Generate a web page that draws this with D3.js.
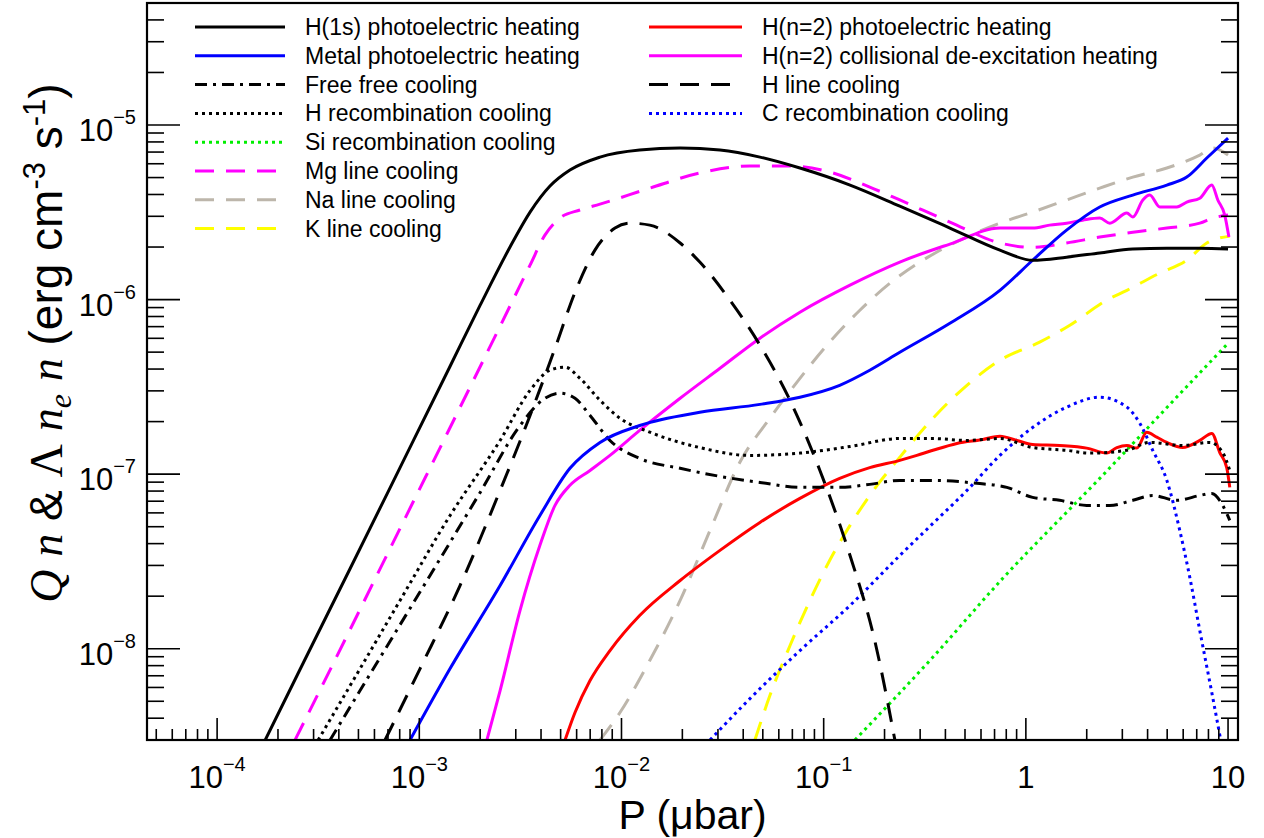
<!DOCTYPE html>
<html><head><meta charset="utf-8">
<script src="https://cdn.jsdelivr.net/npm/d3@7"></script>
<style>
body{margin:0;background:#fff;}
svg{display:block;}
text{font-family:"Liberation Sans",Arial,Helvetica,sans-serif;fill:#000;}
</style>
</head><body>
<svg id="chart" width="1264" height="838"></svg>
<script>
// ---- axis domains & tick labels ----
const xDomain = [4.5e-5, 11.2];
const yDomain = [3e-9, 5e-5];
const xMajorTicks = [1e-4, 1e-3, 1e-2, 1e-1, 1, 10];
const xTickLabels = [["10","\u22124"],["10","\u22123"],["10","\u22122"],["10","\u22121"],["1",""],["10",""]];
const yMajorTicks = [1e-8, 1e-7, 1e-6, 1e-5];
const yTickLabels = [["10","\u22128"],["10","\u22127"],["10","\u22126"],["10","\u22125"]];

// ---- series data: [P (µbar), rate (erg cm^-3 s^-1)] ----
const h1sPhoto = [[1.73e-4,3.0e-9],[2.57e-4,7.6e-9],[4.55e-4,2.88e-8],[8.03e-4,1.09e-7],[1.42e-3,4.15e-7],[2.0e-3,9.29e-7],[2.81e-3,2.0e-6],[3.53e-3,3.17e-6],[4.43e-3,4.47e-6],[5.56e-3,5.52e-6],[7.83e-3,6.55e-6],[1.23e-2,7.19e-6],[1.95e-2,7.38e-6],[3.07e-2,7.19e-6],[4.84e-2,6.55e-6],[7.63e-2,5.67e-6],[0.135,4.53e-6],[0.238,3.43e-6],[0.421,2.57e-6],[0.744,1.92e-6],[1.08,1.68e-6],[1.59,1.75e-6],[2.32,1.85e-6],[3.38,1.95e-6],[4.98,1.97e-6],[7.25,1.97e-6],[10.0,1.95e-6]];
const metalPhoto = [[9.0e-4,3.0e-9],[1.42e-3,7.70e-9],[2.51e-3,2.30e-8],[3.95e-3,5.80e-8],[5.56e-3,1.08e-7],[7.83e-3,1.52e-7],[1.23e-2,1.90e-7],[2.44e-2,2.26e-7],[4.84e-2,2.51e-7],[7.63e-2,2.76e-7],[0.120,3.23e-7],[0.169,3.94e-7],[0.238,4.99e-7],[0.421,7.32e-7],[0.744,1.13e-6],[1.08,1.68e-6],[1.59,2.50e-6],[2.32,3.39e-6],[3.38,3.97e-6],[4.98,4.53e-6],[6.25,5.03e-6],[7.85,6.47e-6],[10.0,8.42e-6]];
const freeFree = [[3.62e-4,3.0e-9],[6.40e-4,8.9e-9],[1.13e-3,2.63e-8],[2.0e-3,7.86e-8],[3.15e-3,1.90e-7],[4.18e-3,2.72e-7],[4.96e-3,2.91e-7],[5.89e-3,2.72e-7],[6.99e-3,2.17e-7],[8.77e-3,1.56e-7],[1.23e-2,1.23e-7],[1.95e-2,1.08e-7],[3.07e-2,9.71e-8],[4.84e-2,8.97e-8],[7.63e-2,8.40e-8],[0.120,8.40e-8],[0.169,8.74e-8],[0.238,9.21e-8],[0.347,9.21e-8],[0.572,8.86e-8],[0.805,8.40e-8],[1.08,7.36e-8],[1.47,7.08e-8],[2.0,6.62e-8],[2.6,6.62e-8],[3.38,7.08e-8],[4.24,7.55e-8],[5.58,7.08e-8],[7.25,7.55e-8],[8.31,7.76e-8],[9.41,6.62e-8],[10.2,5.43e-8]];
const hRecomb = [[3.16e-4,3.0e-9],[4.55e-4,6.15e-9],[8.03e-4,1.89e-8],[1.42e-3,5.80e-8],[2.51e-3,1.56e-7],[3.53e-3,3.02e-7],[4.43e-3,3.94e-7],[5.26e-3,4.10e-7],[6.23e-3,3.54e-7],[7.83e-3,2.65e-7],[9.83e-3,2.09e-7],[1.38e-2,1.74e-7],[2.44e-2,1.42e-7],[4.32e-2,1.28e-7],[7.63e-2,1.32e-7],[0.135,1.44e-7],[0.238,1.60e-7],[0.347,1.60e-7],[0.511,1.56e-7],[0.744,1.60e-7],[1.08,1.42e-7],[1.59,1.37e-7],[2.07,1.32e-7],[3.16,1.37e-7],[4.10,1.52e-7],[5.97,1.46e-7],[8.12,1.52e-7],[9.41,1.33e-7],[10.2,1.05e-7]];
const siRecomb = [[0.1427,3.0e-9],[0.335,8.56e-9],[0.769,2.53e-8],[2.32,9.46e-8],[6.69,3.45e-7],[10.0,5.62e-7]];
const mgLine = [[2.43e-4,3.0e-9],[4.55e-4,1.29e-8],[8.03e-4,4.89e-8],[1.42e-3,1.85e-7],[2.51e-3,7.04e-7],[3.53e-3,1.575e-6],[4.18e-3,2.34e-6],[4.96e-3,2.93e-6],[6.23e-3,3.26e-6],[7.83e-3,3.52e-6],[1.38e-2,4.35e-6],[2.44e-2,5.31e-6],[4.32e-2,5.82e-6],[6.81e-2,5.82e-6],[0.107,5.38e-6],[0.169,4.41e-6],[0.238,3.72e-6],[0.421,2.78e-6],[0.744,2.11e-6],[1.08,1.99e-6],[1.59,2.11e-6],[2.32,2.28e-6],[3.38,2.43e-6],[4.98,2.57e-6],[7.25,2.74e-6],[8.40,2.93e-6],[10.0,3.05e-6]];
const naLine = [[7.83e-3,3.0e-9],[9.83e-3,4.31e-9],[1.38e-2,8.56e-9],[1.95e-2,1.89e-8],[2.74e-2,4.76e-8],[3.85e-2,1.17e-7],[5.42e-2,2.09e-7],[7.63e-2,3.54e-7],[0.107,5.70e-7],[0.151,8.69e-7],[0.2125,1.24e-6],[0.299,1.64e-6],[0.421,2.05e-6],[0.744,2.74e-6],[1.08,3.17e-6],[1.59,3.72e-6],[2.32,4.35e-6],[3.38,5.03e-6],[4.98,5.67e-6],[7.25,6.73e-6],[8.40,7.38e-6],[10.0,6.73e-6]];
const kLine = [[4.57e-2,3.0e-9],[5.42e-2,5.39e-9],[6.81e-2,1.04e-8],[8.55e-2,1.89e-8],[0.107,3.20e-8],[0.135,5.09e-8],[0.169,7.55e-8],[0.238,1.25e-7],[0.347,2.09e-7],[0.511,3.23e-7],[0.744,4.49e-7],[1.17,5.70e-7],[1.65,7.13e-7],[2.51,9.92e-7],[3.16,1.13e-6],[4.60,1.42e-6],[6.25,1.68e-6],[7.85,2.11e-6],[10.2,2.31e-6]];
const hn2Photo = [[5.26e-3,3.0e-9],[5.89e-3,4.31e-9],[6.99e-3,6.57e-9],[8.77e-3,9.76e-9],[1.23e-2,1.55e-8],[1.95e-2,2.46e-8],[3.07e-2,3.66e-8],[4.84e-2,5.29e-8],[7.63e-2,7.26e-8],[0.120,9.46e-8],[0.169,1.09e-7],[0.238,1.20e-7],[0.289,1.28e-7],[0.347,1.37e-7],[0.456,1.50e-7],[0.613,1.58e-7],[0.744,1.65e-7],[0.902,1.56e-7],[1.08,1.48e-7],[1.47,1.46e-7],[2.0,1.41e-7],[2.51,1.32e-7],[2.82,1.42e-7],[3.16,1.46e-7],[3.54,1.41e-7],[3.96,1.74e-7],[4.44,1.63e-7],[4.98,1.52e-7],[5.97,1.42e-7],[7.25,1.56e-7],[8.31,1.71e-7],[9.10,1.33e-7],[9.85,1.09e-7],[10.2,8.40e-8]];
const hn2Coll = [[2.16e-3,3.0e-9],[2.51e-3,5.76e-9],[3.15e-3,1.66e-8],[3.95e-3,3.91e-8],[4.69e-3,6.62e-8],[5.56e-3,8.63e-8],[6.99e-3,1.05e-7],[8.77e-3,1.28e-7],[1.23e-2,1.78e-7],[1.95e-2,2.72e-7],[3.07e-2,4.04e-7],[4.84e-2,6.01e-7],[7.63e-2,8.47e-7],[0.135,1.21e-6],[0.238,1.64e-6],[0.421,2.08e-6],[0.744,2.57e-6],[1.08,2.57e-6],[1.31,2.67e-6],[1.59,2.74e-6],[1.91,2.85e-6],[2.32,2.93e-6],[2.60,2.74e-6],[3.16,3.13e-6],[3.38,2.97e-6],[3.79,3.72e-6],[4.10,3.97e-6],[4.60,3.39e-6],[5.58,3.39e-6],[6.25,3.62e-6],[7.25,3.81e-6],[8.31,4.53e-6],[8.90,3.72e-6],[9.63,3.05e-6],[10.1,2.28e-6]];
const hLine = [[6.77e-4,3.0e-9],[1.009e-3,7.70e-9],[1.59e-3,2.30e-8],[2.51e-3,8.07e-8],[3.53e-3,2.17e-7],[4.69e-3,5.26e-7],[5.89e-3,1.10e-6],[7.39e-3,1.92e-6],[9.29e-3,2.57e-6],[1.10e-2,2.74e-6],[1.38e-2,2.67e-6],[1.95e-2,2.11e-6],[2.44e-2,1.64e-6],[3.44e-2,9.92e-7],[4.84e-2,5.48e-7],[6.81e-2,2.65e-7],[9.58e-2,1.05e-7],[0.135,3.42e-8],[0.179,1.11e-8],[0.225,3.0e-9]];
const cRecomb = [[2.74e-2,3.0e-9],[4.32e-2,5.18e-9],[7.63e-2,9.76e-9],[0.135,1.77e-8],[0.238,3.42e-8],[0.347,5.22e-8],[0.511,8.07e-8],[0.744,1.28e-7],[1.08,1.85e-7],[1.59,2.42e-7],[2.32,2.76e-7],[3.16,2.42e-7],[3.66,1.96e-7],[4.24,1.37e-7],[4.98,9.21e-8],[5.77,4.76e-8],[6.47,2.56e-8],[7.25,1.27e-8],[8.31,5.61e-9],[9.20,3.0e-9]];

// legend labels (left column, right column)
const legendLeft = ["H(1s) photoelectric heating","Metal photoelectric heating","Free free cooling","H recombination cooling","Si recombination cooling","Mg line cooling","Na line cooling","K line cooling"];
const legendRight = ["H(n=2) photoelectric heating","H(n=2) collisional de-excitation heating","H line cooling","C recombination cooling"];

// ---- styles ----
const DASH = "19,12", DOT = "3,4", DASHDOT = "12,6,3,6";
const leftSeries = [
  {data:h1sPhoto, color:"#000000", dash:null},
  {data:metalPhoto, color:"#0000ff", dash:null},
  {data:freeFree, color:"#000000", dash:DASHDOT},
  {data:hRecomb, color:"#000000", dash:DOT},
  {data:siRecomb, color:"#00ee00", dash:DOT},
  {data:mgLine, color:"#ff00ff", dash:DASH},
  {data:naLine, color:"#bdb6ab", dash:DASH},
  {data:kLine, color:"#ffff00", dash:DASH}
];
const rightSeries = [
  {data:hn2Photo, color:"#ff0000", dash:null},
  {data:hn2Coll, color:"#ff00ff", dash:null},
  {data:hLine, color:"#000000", dash:DASH},
  {data:cRecomb, color:"#0000ff", dash:DOT}
];
leftSeries.forEach((s,i)=>s.label=legendLeft[i]);
rightSeries.forEach((s,i)=>s.label=legendRight[i]);

// ---- layout ----
const L = 147, R = 1238, T = 3, B = 740;
const svg = d3.select("#chart");
const x = d3.scaleLog().domain(xDomain).range([L, R]);
const y = d3.scaleLog().domain(yDomain).range([B, T]);

svg.append("defs").append("clipPath").attr("id","plotclip")
  .append("rect").attr("x",L).attr("y",T).attr("width",R-L).attr("height",B-T);

// series curves
const line = d3.line().x(d=>x(d[0])).y(d=>y(d[1])).curve(d3.curveMonotoneX);
const gLines = svg.append("g").attr("clip-path","url(#plotclip)");
const drawOrder = [leftSeries[6], leftSeries[7], leftSeries[4], rightSeries[3], leftSeries[5],
  rightSeries[0], rightSeries[1], leftSeries[2], leftSeries[3], rightSeries[2], leftSeries[1], leftSeries[0]];
drawOrder.forEach(s=>{
  gLines.append("path").attr("d", line(s.data))
    .attr("fill","none").attr("stroke", s.color).attr("stroke-width",3)
    .attr("stroke-dasharray", s.dash).attr("stroke-linejoin","round");
});

// ticks
function minorTicks(domain){
  const out=[]; const lo=Math.floor(Math.log10(domain[0])), hi=Math.ceil(Math.log10(domain[1]));
  for(let e=lo;e<=hi;e++) for(let k=1;k<=9;k++){const v=k*Math.pow(10,e); if(v>=domain[0]*0.999&&v<=domain[1]*1.001) out.push({v, major:k===1});}
  return out;
}
const gAx = svg.append("g").attr("stroke","#000").attr("stroke-width",1.6);
minorTicks(xDomain).forEach(t=>{
  const px=x(t.v), len=t.major?22:11;
  gAx.append("line").attr("x1",px).attr("x2",px).attr("y1",B).attr("y2",B-len);
});
minorTicks(yDomain).forEach(t=>{
  const py=y(t.v), len=t.major?33:17;
  gAx.append("line").attr("x1",L).attr("x2",L+len).attr("y1",py).attr("y2",py);
  gAx.append("line").attr("x1",R).attr("x2",R-len).attr("y1",py).attr("y2",py);
});

// frame
svg.append("rect").attr("x",L).attr("y",T).attr("width",R-L).attr("height",B-T)
  .attr("fill","none").attr("stroke","#000").attr("stroke-width",2.2);

// tick labels
xMajorTicks.forEach((v,i)=>{
  const t = svg.append("text").attr("x",x(v)).attr("y",788).attr("text-anchor","middle").attr("font-size",31);
  t.append("tspan").text(xTickLabels[i][0]);
  if(xTickLabels[i][1]) t.append("tspan").attr("font-size",20).attr("dy",-17).text(xTickLabels[i][1]);
});
yMajorTicks.forEach((v,i)=>{
  const t = svg.append("text").attr("x",136).attr("y",y(v)+16).attr("text-anchor","end").attr("font-size",31);
  t.append("tspan").text(yTickLabels[i][0]);
  t.append("tspan").attr("font-size",20).attr("dy",-17).text(yTickLabels[i][1]);
});

// axis titles
svg.append("text").attr("x",(L+R)/2).attr("y",829).attr("text-anchor","middle")
  .attr("font-size",41).text("P (\u03bcbar)");

const yt = svg.append("text").attr("transform","translate(62,343) rotate(-90)")
  .attr("text-anchor","middle").attr("font-size",46);
const serif = "'Liberation Serif','Times New Roman',serif";
yt.append("tspan").attr("font-family",serif).attr("font-style","italic").text("Q");
yt.append("tspan").text(" ");
yt.append("tspan").attr("font-family",serif).attr("font-style","italic").text("n");
yt.append("tspan").text(" & ");
yt.append("tspan").attr("font-family",serif).text("\u039b");
yt.append("tspan").text(" ");
yt.append("tspan").attr("font-family",serif).attr("font-style","italic").text("n");
yt.append("tspan").attr("font-family",serif).attr("font-style","italic").attr("font-size",32).attr("dy",9).text("e");
yt.append("tspan").attr("dy",-9).text(" ");
yt.append("tspan").attr("font-family",serif).attr("font-style","italic").text("n");
yt.append("tspan").text(" (erg cm");
yt.append("tspan").attr("font-size",31).attr("dy",-17).text("-3");
yt.append("tspan").attr("dy",17).text(" s");
yt.append("tspan").attr("font-size",31).attr("dy",-17).text("-1");
yt.append("tspan").attr("dy",17).text(")");

// legend
function drawLegend(series, x1, x2, xt){
  series.forEach((s,i)=>{
    const yy = 27 + i*28.8;
    svg.append("line").attr("x1",x1).attr("x2",x2).attr("y1",yy).attr("y2",yy)
      .attr("stroke",s.color).attr("stroke-width",3).attr("stroke-dasharray",s.dash);
    svg.append("text").attr("x",xt).attr("y",yy+8).attr("font-size",23).text(s.label);
  });
}
drawLegend(leftSeries, 195, 285, 305);
drawLegend(rightSeries, 649, 742, 762);
</script>
</body></html>
